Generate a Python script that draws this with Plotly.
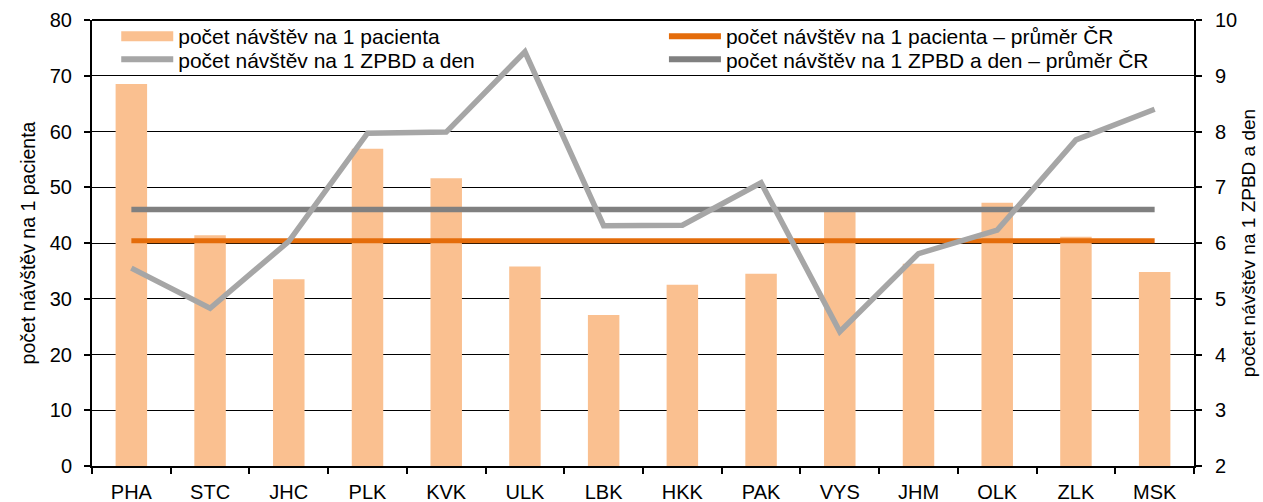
import plotly.graph_objects as go

# Kraje ČR
regions = ["PHA", "STC", "JHC", "PLK", "KVK", "ULK", "LBK", "HKK", "PAK", "VYS", "JHM", "OLK", "ZLK", "MSK"]

# počet návštěv na 1 pacienta (levá osa)
visits_per_patient = [68.5, 41.4, 33.5, 56.9, 51.6, 35.8, 27.1, 32.5, 34.5, 46.1, 36.3, 47.2, 41.1, 34.8]
# počet návštěv na 1 ZPBD a den (pravá osa)
visits_per_zpbd_day = [5.55, 4.83, 6.03, 7.97, 7.99, 9.43, 6.31, 6.32, 7.08, 4.41, 5.81, 6.23, 7.85, 8.40]

# celostátní průměry
avg_per_patient = 40.4
avg_per_zpbd_day = 6.6

BAR_COLOR = "#FAC090"
ORANGE = "#E46C0A"
LIGHT_GREY = "#A6A6A6"
DARK_GREY = "#808080"
FONT = "Liberation Sans, Arial, sans-serif"

fig = go.Figure()

fig.add_trace(go.Bar(
    x=regions, y=visits_per_patient, marker=dict(color=BAR_COLOR, line=dict(width=0)),
    showlegend=False, yaxis="y",
))
fig.add_trace(go.Scatter(
    x=regions, y=[avg_per_patient] * len(regions), mode="lines",
    line=dict(color=ORANGE, width=5), showlegend=False, yaxis="y",
))
fig.add_trace(go.Scatter(
    x=regions, y=[avg_per_zpbd_day] * len(regions), mode="lines",
    line=dict(color=DARK_GREY, width=5.5), showlegend=False, yaxis="y2",
))
fig.add_trace(go.Scatter(
    x=regions, y=visits_per_zpbd_day, mode="lines",
    line=dict(color=LIGHT_GREY, width=5.5), showlegend=False, yaxis="y2",
))

# legend entries: one legend per entry, arranged in two columns
legend_items = [
    ("počet návštěv na 1 pacienta", BAR_COLOR, 11, "legend"),
    ("počet návštěv na 1 ZPBD a den", LIGHT_GREY, 6, "legend2"),
    ("počet návštěv na 1 pacienta – průměr ČR", ORANGE, 6, "legend3"),
    ("počet návštěv na 1 ZPBD a den – průměr ČR", DARK_GREY, 6, "legend4"),
]
for name, color, w, lg in legend_items:
    fig.add_trace(go.Scatter(
        x=[None], y=[None], mode="lines", name=name,
        line=dict(color=color, width=w), legend=lg, yaxis="y",
    ))

legend_style = dict(
    orientation="v", bgcolor="rgba(0,0,0,0)", borderwidth=0,
    font=dict(family=FONT, size=21, color="black"),
    itemwidth=52, tracegroupgap=0, yanchor="middle", xanchor="left",
)
col1_x, col2_x = 0.022, 0.519
row1_y, row2_y = 0.963, 0.911

fig.update_layout(
    width=1263, height=502,
    margin=dict(l=92, r=69, t=20, b=36),
    paper_bgcolor="white", plot_bgcolor="white",
    font=dict(family=FONT, size=20, color="black"),
    bargap=0.6,
    legend=dict(x=col1_x, y=row1_y, **legend_style),
    legend2=dict(x=col1_x, y=row2_y, **legend_style),
    legend3=dict(x=col2_x, y=row1_y, **legend_style),
    legend4=dict(x=col2_x, y=row2_y, **legend_style),
    xaxis=dict(
        range=[-0.5, 13.5], tickson="boundaries", ticks="outside", ticklen=6,
        tickwidth=2, tickcolor="black", showline=True, linecolor="black", linewidth=2,
        showgrid=False, tickfont=dict(size=20), ticklabelstandoff=7, automargin=False,
    ),
    yaxis=dict(
        range=[0, 80], dtick=10, ticks="outside", ticklen=6, tickwidth=2,
        tickcolor="black", showline=True, linecolor="black", linewidth=2,
        showgrid=True, gridcolor="black", gridwidth=1, zeroline=False,
        title=dict(text="počet návštěv na 1 pacienta", font=dict(size=19.5), standoff=9),
        tickfont=dict(size=20), ticklabelstandoff=8, automargin=False,
    ),
    yaxis2=dict(
        range=[2, 10], dtick=1, overlaying="y", side="right", ticks="outside",
        ticklen=6, tickwidth=2, tickcolor="black", showline=True, linecolor="black",
        linewidth=2, showgrid=False, zeroline=False,
        title=dict(text="počet návštěv na 1 ZPBD a den", font=dict(size=19), standoff=5),
        tickfont=dict(size=20), ticklabelstandoff=9, automargin=False,
    ),
    shapes=[dict(type="line", xref="paper", yref="paper", x0=0, x1=1, y0=1, y1=1,
                 line=dict(color="black", width=2))],
)

fig.write_html("out.html")
